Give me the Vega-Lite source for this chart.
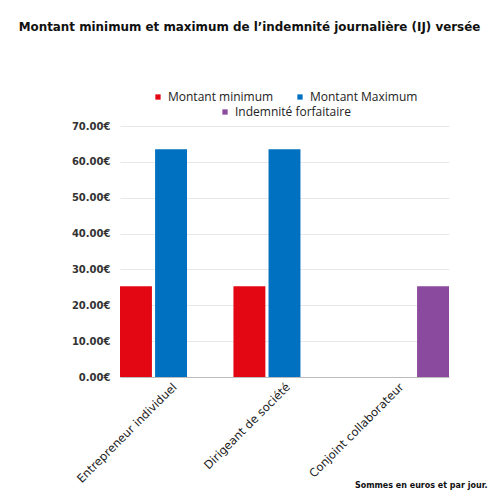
{
  "$schema": "https://vega.github.io/schema/vega-lite/v6.json",
  "autosize": "none",
  "width": 329,
  "height": 251,
  "padding": {"left": 120, "top": 126, "right": 51, "bottom": 123},
  "background": "white",
  "title": {
    "text": "Montant minimum et maximum de l’indemnité journalière (IJ) versée",
    "font": "DejaVu Sans",
    "fontSize": 11.9,
    "fontWeight": "bold",
    "color": "#111",
    "anchor": "middle",
    "dx": -35,
    "offset": 57
  },
  "data": {
    "values": [
      {"categorie": "Entrepreneur individuel", "serie": "Montant minimum", "montant": 25.3},
      {"categorie": "Entrepreneur individuel", "serie": "Montant Maximum", "montant": 63.5},
      {"categorie": "Dirigeant de société", "serie": "Montant minimum", "montant": 25.3},
      {"categorie": "Dirigeant de société", "serie": "Montant Maximum", "montant": 63.5},
      {"categorie": "Conjoint collaborateur", "serie": "Indemnité forfaitaire", "montant": 25.3}
    ]
  },
  "encoding": {
    "x": {
      "field": "categorie",
      "type": "nominal",
      "sort": ["Entrepreneur individuel", "Dirigeant de société", "Conjoint collaborateur"],
      "scale": {"paddingInner": 0.1, "paddingOuter": 0},
      "axis": {
        "title": "Sommes en euros et par jour.",
        "titleFont": "DejaVu Sans",
        "titleFontSize": 8,
        "titleFontWeight": "bold",
        "titleColor": "#111",
        "titleAnchor": "end",
        "titleAlign": "right",
        "titleX": 367,
        "titleY": 104,
        "labelAngle": -45,
        "labelFont": "DejaVu Sans",
        "labelFontSize": 11.5,
        "labelColor": "#1a1a1a",
        "labelPadding": 4,
        "ticks": false,
        "domainColor": "#bbbbbb",
        "domainWidth": 1
      }
    },
    "xOffset": {
      "field": "serie",
      "type": "nominal",
      "scale": {"domain": ["Montant minimum", "Montant Maximum", "Indemnité forfaitaire"], "paddingInner": 0.09}
    },
    "y": {
      "field": "montant",
      "type": "quantitative",
      "scale": {"domain": [0, 70]},
      "axis": {
        "title": null,
        "values": [0, 10, 20, 30, 40, 50, 60, 70],
        "labelExpr": "format(datum.value, '.2f') + '€'",
        "labelFont": "DejaVu Sans",
        "labelFontSize": 10,
        "labelFontWeight": "bold",
        "labelColor": "#333",
        "labelPadding": 10,
        "ticks": false,
        "domain": false,
        "gridColor": "#e8e8e8"
      }
    }
  },
  "layer": [
    {
      "transform": [{"filter": "datum.serie !== 'Indemnité forfaitaire'"}],
      "mark": {"type": "bar"},
      "encoding": {
        "color": {
          "field": "serie",
          "type": "nominal",
          "scale": {"domain": ["Montant minimum", "Montant Maximum"], "range": ["#e30613", "#0070c0"]},
          "legend": {"title": null, "orient": "top", "direction": "horizontal", "columnPadding": 20}
        }
      }
    },
    {
      "transform": [{"filter": "datum.serie === 'Indemnité forfaitaire'"}],
      "mark": {"type": "bar"},
      "encoding": {
        "fill": {
          "field": "serie",
          "type": "nominal",
          "scale": {"domain": ["Indemnité forfaitaire"], "range": ["#8a4a9e"]},
          "legend": {"title": null, "orient": "top", "direction": "horizontal"}
        }
      }
    }
  ],
  "config": {
    "view": {"stroke": null},
    "legend": {
      "labelFont": "Open Sans",
      "labelFontSize": 12,
      "labelColor": "#222",
      "symbolType": "square",
      "symbolSize": 28,
      "symbolStrokeWidth": 0,
      "offset": 8,
      "layout": {"top": {"direction": "vertical", "anchor": "middle", "center": true, "margin": 3}}
    }
  }
}
